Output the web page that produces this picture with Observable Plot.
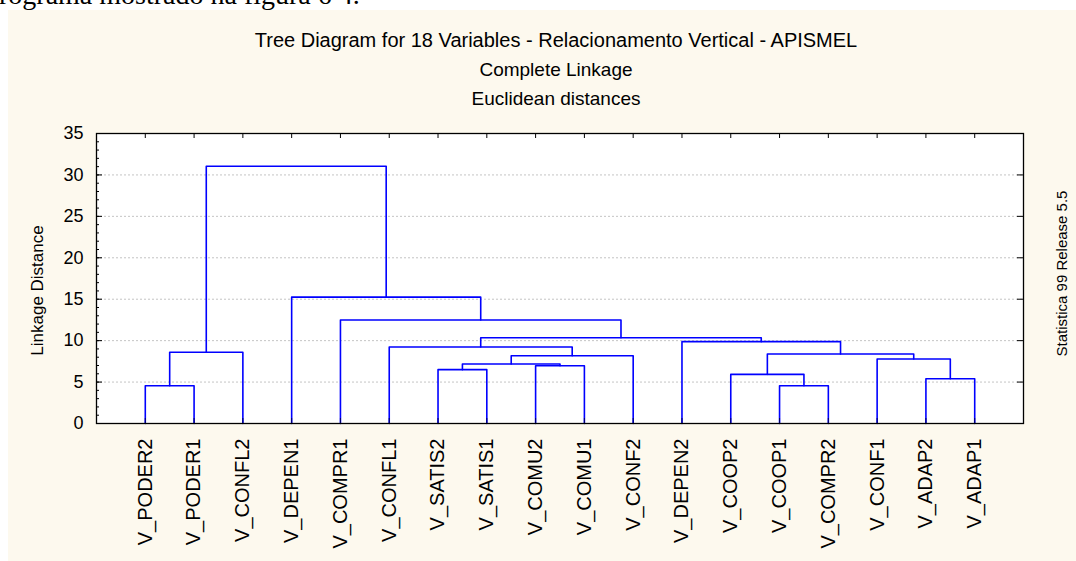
<!DOCTYPE html>
<html><head><meta charset="utf-8">
<script src="https://cdn.jsdelivr.net/npm/d3@7"></script>
<script src="https://cdn.jsdelivr.net/npm/@observablehq/plot@0.6"></script>
<style>
body{margin:0;background:#fff;}
#page{position:relative;width:1076px;height:561px;overflow:hidden;background:#fff;}
#top{position:absolute;left:-15px;top:-21px;font-family:"Liberation Serif","Times New Roman",serif;font-size:28px;line-height:32px;white-space:nowrap;color:#000;}
#bg{position:absolute;left:8px;top:10px;right:0;bottom:0;background:#fdf9ee;}
#chart{position:absolute;left:0;top:0;}
#chart svg{background:transparent;font-family:Arial,"Liberation Sans",sans-serif;}
</style></head>
<body>
<div id="page">
  <div id="top">programa mostrado na figura 6 4.</div>
  <div id="bg"></div>
  <div id="chart"></div>
</div>
<script>
const titleLines = ["Tree Diagram for 18 Variables - Relacionamento Vertical - APISMEL", "Complete Linkage", "Euclidean distances"];
const yLabel = "Linkage Distance";
const sideLabel = "Statistica 99 Release 5.5";
const leaves = ["V_PODER2","V_PODER1","V_CONFL2","V_DEPEN1","V_COMPR1","V_CONFL1","V_SATIS2","V_SATIS1","V_COMU2","V_COMU1","V_CONF2","V_DEPEN2","V_COOP2","V_COOP1","V_COMPR2","V_CONF1","V_ADAP2","V_ADAP1"];
// merges: [left, right, linkage distance]; ids m0, m1, ...
const merges = [
  ["V_PODER2","V_PODER1",4.55],  // m0
  ["m0","V_CONFL2",8.6],         // m1
  ["V_SATIS2","V_SATIS1",6.5],   // m2
  ["V_COMU2","V_COMU1",6.97],    // m3
  ["m2","m3",7.18],              // m4
  ["m4","V_CONF2",8.18],         // m5
  ["V_CONFL1","m5",9.24],        // m6
  ["V_COOP1","V_COMPR2",4.55],   // m7
  ["V_COOP2","m7",5.93],         // m8
  ["V_ADAP2","V_ADAP1",5.4],     // m9
  ["V_CONF1","m9",7.78],         // m10
  ["m8","m10",8.39],             // m11
  ["V_DEPEN2","m11",9.88],       // m12
  ["m6","m12",10.35],            // m13
  ["V_COMPR1","m13",12.5],       // m14
  ["V_DEPEN1","m14",15.25],      // m15
  ["m1","m15",31.05]             // m16
];
const yMajor = [0,5,10,15,20,25,30,35];
const yMinor = d3.range(0,36);
const yGrid = [5,10,15,20,25,30];

const nodeX = {}, nodeH = {};
leaves.forEach((l,i)=>{ nodeX[l]=i+1; nodeH[l]=0; });
const segs = [];
merges.forEach(([a,b,h],i)=>{
  const id = "m"+i;
  segs.push({id,x:nodeX[a],y:nodeH[a]},{id,x:nodeX[a],y:h},{id,x:nodeX[b],y:h},{id,x:nodeX[b],y:nodeH[b]});
  nodeX[id]=(nodeX[a]+nodeX[b])/2; nodeH[id]=h;
});

const W=1076,H=561,mL=96,mR=53,mT=133,mB=138;
const fw=W-mL-mR, fh=H-mT-mB;
const leafPos = leaves.map((l,i)=>i+1);

const plot = Plot.plot({
  width:W, height:H, marginLeft:mL, marginRight:mR, marginTop:mT, marginBottom:mB,
  x:{type:"linear", domain:[0, leaves.length+1], axis:null},
  y:{domain:[0,35], axis:null},
  marks:[
    Plot.frame({fill:"white", stroke:null}),
    Plot.ruleY(yGrid, {y:d=>d, stroke:"#c4c4c4", strokeDasharray:"2,2", strokeWidth:1}),
    Plot.line(segs, {x:"x", y:"y", z:"id", stroke:"#0000ff", strokeWidth:1.6, curve:"linear"}),
    Plot.frame({stroke:"black", strokeWidth:1.3}),
    Plot.tickY(yMinor, {y:d=>d, stroke:"black", insetRight:fw-3}),
    Plot.tickY(yMajor, {y:d=>d, stroke:"black", insetRight:fw-6}),
    Plot.tickY(yMajor, {y:d=>d, stroke:"black", insetLeft:fw-6}),
    Plot.tickX(leafPos, {x:d=>d, stroke:"black", insetBottom:fh-5}),
    Plot.tickX(leafPos, {x:d=>d, stroke:"#000060", insetTop:fh-5}),
    Plot.axisY(yMajor, {tickSize:0, tickPadding:13, fontSize:18, label:null, fill:"black"}),
    Plot.text(leaves, {x:(d,i)=>i+1, frameAnchor:"bottom", rotate:-90, textAnchor:"end", lineAnchor:"middle", dy:15, fontSize:20, fill:"black"}),
    Plot.text([yLabel], {frameAnchor:"left", textAnchor:"middle", lineAnchor:"middle", dx:-59, dy:12, rotate:-90, fontSize:17, fill:"black"}),
    Plot.text([sideLabel], {frameAnchor:"right", textAnchor:"middle", lineAnchor:"middle", dx:39, dy:-5, rotate:-90, fontSize:15, fill:"black"}),
    Plot.text([titleLines[0]], {frameAnchor:"top", lineAnchor:"middle", dx:-4, dy:-93, fontSize:20, fill:"black"}),
    Plot.text([titleLines[1]], {frameAnchor:"top", lineAnchor:"middle", dx:-4, dy:-64, fontSize:19, fill:"black"}),
    Plot.text([titleLines[2]], {frameAnchor:"top", lineAnchor:"middle", dx:-4, dy:-35, fontSize:19, fill:"black"})
  ]
});
document.getElementById("chart").appendChild(plot);
</script>
</body></html>
